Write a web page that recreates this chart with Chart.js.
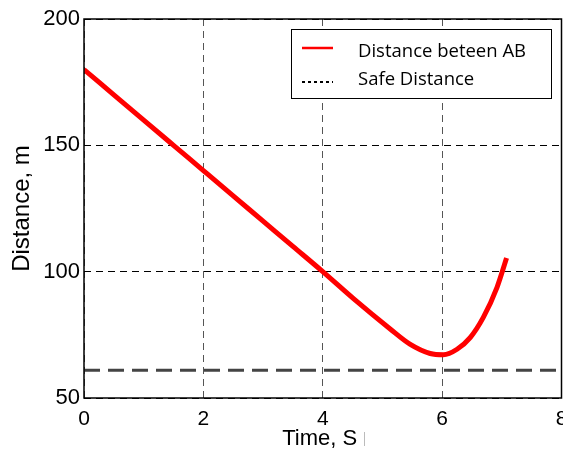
<!DOCTYPE html>
<html><head><meta charset="utf-8">
<script src="https://cdn.jsdelivr.net/npm/chart.js@4/dist/chart.umd.min.js"></script>
<style>html,body{margin:0;padding:0;background:#fff}</style>
</head><body>
<canvas id="c" width="563" height="454"></canvas>
<script>
const timeS =    [0,   0.5, 1,   1.5, 2,   2.5, 3,   3.5, 4,   4.52, 5.13, 5.46, 5.8,  6.02, 6.25, 6.47, 6.69, 6.92, 7.08];
const distance = [180, 170, 160, 150, 140, 130, 120, 110, 100, 89.2, 77.3, 71.3, 67.6, 67.1, 69.3, 73.9, 81.9, 93.8, 105.4];
const safeTime = [0, 8];
const safeDistance = [61, 61];
const xTicks = [0, 2, 4, 6, 8];
const yTicks = [50, 100, 150, 200];
const seriesLabels = ['Distance beteen AB', 'Safe Distance'];

const FONT = '"Liberation Sans", Arial, sans-serif';

const framePlugin = {
  id: 'frame',
  afterDraw(chart) {
    const {ctx, chartArea: a} = chart;
    ctx.save();
    ctx.strokeStyle = '#000';
    ctx.lineWidth = 1.5;
    ctx.setLineDash([]);
    ctx.strokeRect(a.left, a.top, a.right - a.left, a.bottom - a.top);
    // legend box
    const lx = 291, ly = 29, lw = 260, lh = 69;
    ctx.fillStyle = '#fff';
    ctx.fillRect(lx, ly, lw, lh);
    ctx.lineWidth = 1;
    ctx.strokeRect(lx + 0.5, ly + 0.5, lw, lh);
    ctx.strokeStyle = '#ff0000';
    ctx.lineWidth = 2.5;
    ctx.beginPath(); ctx.moveTo(302, 48); ctx.lineTo(333, 48); ctx.stroke();
    ctx.strokeStyle = '#000';
    ctx.lineWidth = 2;
    ctx.setLineDash([3, 3]);
    ctx.beginPath(); ctx.moveTo(302, 82); ctx.lineTo(333, 82); ctx.stroke();
    ctx.setLineDash([]);
    ctx.fillStyle = '#000';
    ctx.font = '18.5px "Open Sans", "Liberation Sans", sans-serif';
    ctx.textBaseline = 'alphabetic';
    ctx.textAlign = 'left';
    ctx.fillText(seriesLabels[0], 358, 57);
    ctx.fillText(seriesLabels[1], 358, 85);
    // faint mark after the x title, as in the reference
    ctx.strokeStyle = '#bbb';
    ctx.lineWidth = 1;
    ctx.beginPath(); ctx.moveTo(364.5, 432); ctx.lineTo(364.5, 446); ctx.stroke();
    ctx.restore();
  }
};

new Chart(document.getElementById('c'), {
  type: 'line',
  data: {
    datasets: [
      {
        label: seriesLabels[0],
        data: timeS.map((t, i) => ({x: t, y: distance[i]})),
        borderColor: '#ff0000',
        borderWidth: 5,
        pointRadius: 0,
        cubicInterpolationMode: 'monotone',
        fill: false
      },
      {
        label: seriesLabels[1],
        data: safeTime.map((t, i) => ({x: t, y: safeDistance[i]})),
        borderColor: '#444',
        borderWidth: 3,
        borderDash: [16, 8],
        pointRadius: 0,
        fill: false
      }
    ]
  },
  options: {
    responsive: false,
    animation: false,
    layout: {padding: {top: 19, right: 1.5, left: 0, bottom: 0}},
    plugins: {legend: {display: false}, tooltip: {enabled: false}},
    scales: {
      x: {
        type: 'linear', min: 0, max: 8,
        afterBuildTicks(s) { s.ticks = xTicks.map(v => ({value: v})); },
        afterFit(s) { s.height = 56; s.paddingLeft = 0; s.paddingRight = 0; },
        ticks: {color: '#000', font: {family: FONT, size: 21}, padding: 9, maxRotation: 0},
        grid: {color: '#555', lineWidth: 1, drawTicks: false, tickLength: 0},
        border: {display: false, dash: [7, 5]},
        title: {display: true, text: 'Time, S ', color: '#000', font: {family: FONT, size: 22}, padding: {top: 0, bottom: 2}}
      },
      y: {
        type: 'linear', min: 50, max: 200,
        afterBuildTicks(s) { s.ticks = yTicks.map(v => ({value: v})); },
        afterFit(s) { s.width = 84; s.paddingTop = 0; s.paddingBottom = 0; },
        ticks: {color: '#000', font: {family: FONT, size: 22}, padding: 4},
        grid: {color: '#000', lineWidth: 1, drawTicks: false, tickLength: 0},
        border: {display: false, dash: [7, 5]},
        title: {display: true, text: 'Distance, m', color: '#000', font: {family: FONT, size: 24}, padding: {top: 8, bottom: 2}}
      }
    }
  },
  plugins: [framePlugin]
});
</script>
</body></html>
